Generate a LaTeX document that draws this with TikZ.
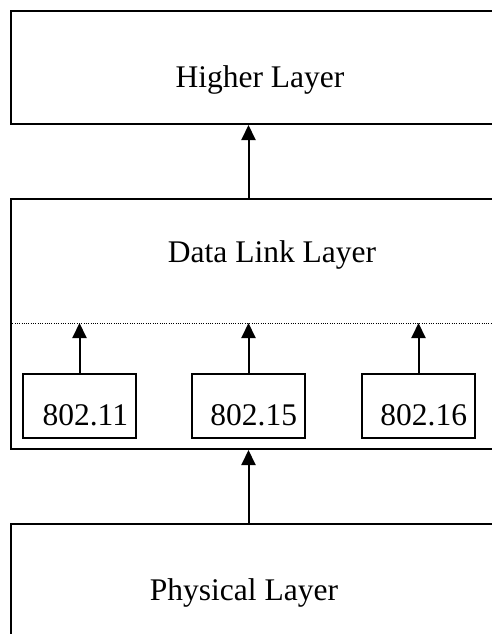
\documentclass[tikz,border=0pt]{standalone}
\usepackage{fontspec}
\setmainfont{Liberation Serif}
\usetikzlibrary{positioning, arrows.meta}

\begin{document}
\begin{tikzpicture}[x=1pt, y=-1pt, line width=2pt, font=\fontsize{31.5}{38}\selectfont,
    layer/.style={draw, minimum width=510pt, inner sep=0pt, anchor=north west},
    proto/.style={draw, minimum width=113pt, minimum height=64pt, inner sep=0pt, anchor=north west,
                  text height=38pt, text depth=0pt, text width=97pt, align=right},
    arw/.style={-{Triangle[length=15pt, width=14pt]}}]
          \useasboundingbox (0,0) rectangle (491,634);

          % layers
          \node[layer, minimum height=113pt] (hl) at (10,10) {};
          \node[layer, minimum height=250pt] (dl) at (10,198) {};
          \node[layer, minimum height=150pt] (phy) at (10,523) {};
          \node[anchor=base] (hltext) at (260,87) {Higher Layer};
          \node[anchor=base] (dltext) at (272,262.5) {Data Link Layer};
          \node[anchor=base] (phytext) at (244,600.5) {Physical Layer};

          % sublayer boundary
          \coordinate (sep) at (10,323);
          \draw[line width=0.9pt, dash pattern=on 0.9pt off 1.4pt] (sep) -- (sep -| dl.east);

          % MAC protocols
          \node[proto] (b11) at (22,373) {802.11};
          \node[proto] (b15) at (191,373) {802.15};
          \node[proto] (b16) at (361,373) {802.16};
          \foreach \b in {b11,b15,b16}
            \draw[arw] (\b.north) -- (\b.north |- sep);

          \draw[arw] (b15.north |- dl.north) -- (b15.north |- hl.south);
          \draw[arw] (b15.north |- phy.north) -- (b15.north |- dl.south);
        \end{tikzpicture}
\end{document}
